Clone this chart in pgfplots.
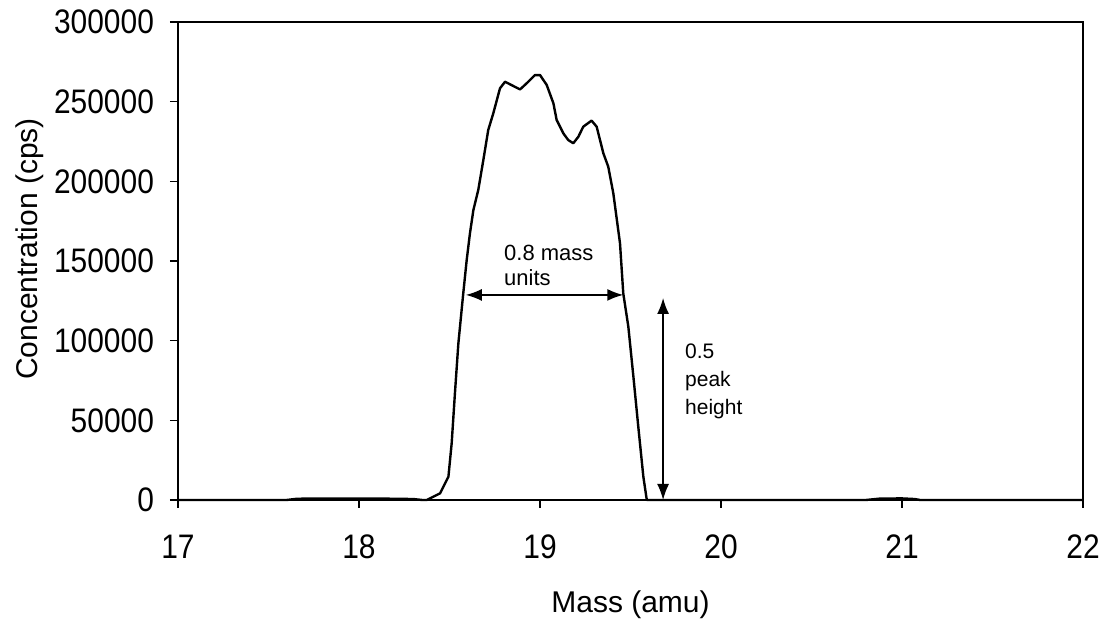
\documentclass[border=0pt]{standalone}
\usepackage{pgfplots}
\pgfplotsset{compat=1.18}
\usetikzlibrary{arrows.meta}
\usepackage{fontspec}
\setmainfont{Liberation Sans}
\newfontfamily\tickfont[FakeStretch=0.88]{Liberation Sans}
\begin{document}
\begin{tikzpicture}
\begin{axis}[
  scale only axis,
  width=452.5pt, height=239pt,
  xmin=17, xmax=22, ymin=0, ymax=300000,
  xtick={17,18,19,20,21,22},
  xticklabels={17,18,19,20,21,22},
  ytick={0,50000,100000,150000,200000,250000,300000},
  yticklabels={0,50000,100000,150000,200000,250000,300000},
  scaled y ticks=false,
  tick align=outside,
  xtick pos=bottom, ytick pos=left,
  major tick length=4pt,
  tick style={black, line width=0.6pt},
  axis line style={line width=1.1pt},
  ticklabel style={font=\tickfont\fontsize{17}{20}\selectfont},
  xticklabel style={yshift=-10pt},
  yticklabel style={xshift=-4.5pt},
  xlabel={Mass (amu)},
  ylabel={Concentration (cps)},
  label style={font=\fontsize{15}{18}\selectfont},
  xlabel style={at={(axis description cs:0.5,0)}, anchor=center, yshift=-52.5pt},
  ylabel style={at={(axis description cs:-0.1635,0.525)}, anchor=center},
  clip=false,
]
\addplot[black, line width=1.2pt, line join=round] coordinates {
(17.00,0) (17.60,0) (17.66,800) (17.80,900) (18.00,900) (18.20,800) (18.30,600) (18.35,0)
(18.374,0) (18.448,4200) (18.494,14600) (18.512,35600) (18.530,67000) (18.549,98300)
(18.576,129700) (18.595,150600) (18.613,167400) (18.632,182000) (18.659,194600)
(18.687,213400) (18.714,232200) (18.742,242700) (18.779,258400) (18.807,262500)
(18.853,259800) (18.890,257700) (18.926,261500) (18.972,266700) (19.000,266700)
(19.037,260500) (19.074,249000) (19.092,238500) (19.129,230100) (19.156,225900)
(19.184,223900) (19.212,228000) (19.239,234300) (19.285,238100) (19.313,234300)
(19.350,217600) (19.377,209200) (19.405,192500) (19.442,161100) (19.460,129700)
(19.488,108800) (19.516,77400) (19.543,46000) (19.571,14600) (19.590,0)
(20.80,0) (20.88,900) (21.00,1000) (21.07,600) (21.10,0) (22.00,0)
};
\draw[black, line width=0.8pt, {Latex[length=8pt,width=6pt]}-{Latex[length=8pt,width=6pt]}]
  (axis cs:18.59,128700) -- (axis cs:19.46,128700);
\draw[black, line width=0.8pt, {Latex[length=8pt,width=6pt]}-{Latex[length=8pt,width=6pt]}]
  (axis cs:19.68,126800) -- (axis cs:19.68,0);
\node[anchor=west, align=left, font=\fontsize{11}{12.5}\selectfont, inner sep=0pt] at (axis cs:18.80,147000) {0.8 mass\\units};
\node[anchor=west, align=left, font=\fontsize{10.5}{14}\selectfont, inner sep=0pt] at (axis cs:19.80,74500) {0.5\\peak\\height};
\end{axis}
\pgfresetboundingbox
\path ([shift={(-89pt,-62.5pt)}]current axis.south west) rectangle ([shift={(11.5pt,11pt)}]current axis.north east);
\end{tikzpicture}
\end{document}
